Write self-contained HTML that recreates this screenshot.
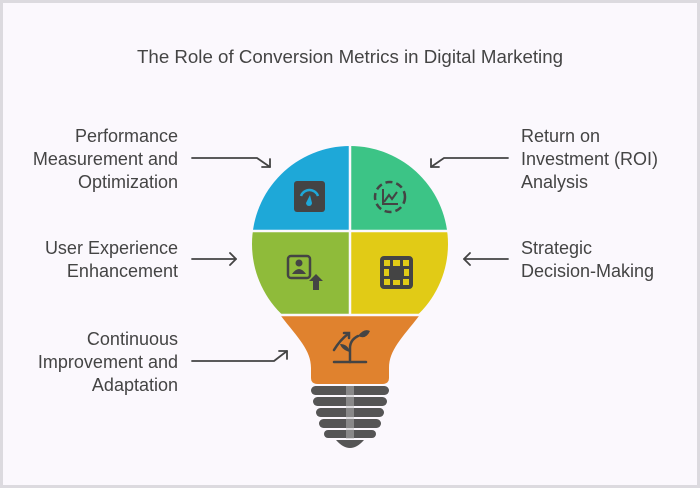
<!DOCTYPE html>
<html><head><meta charset="utf-8"><style>
html,body{margin:0;padding:0;}
body{width:700px;height:488px;background:#fbf8fd;overflow:hidden;}
svg{display:block}
text{font-family:"Liberation Sans",sans-serif;fill:#444;}
</style></head><body>
<svg width="700" height="488" viewBox="0 0 700 488" xmlns="http://www.w3.org/2000/svg">
<rect x="0" y="0" width="700" height="488" fill="#fbf8fd"/>
<rect x="1.5" y="1.5" width="697" height="485" fill="none" stroke="#dcdadf" stroke-width="3"/>
<text x="350" y="63" text-anchor="middle" font-size="18" textLength="426" lengthAdjust="spacingAndGlyphs">The Role of Conversion Metrics in Digital Marketing</text>

<g font-size="18" text-anchor="end">
<text x="178" y="142">Performance</text>
<text x="178" y="165">Measurement and</text>
<text x="178" y="188">Optimization</text>
<text x="178" y="254">User Experience</text>
<text x="178" y="277">Enhancement</text>
<text x="178" y="345">Continuous</text>
<text x="178" y="368">Improvement and</text>
<text x="178" y="391">Adaptation</text>
</g>
<g font-size="18">
<text x="521" y="142">Return on</text>
<text x="521" y="165">Investment (ROI)</text>
<text x="521" y="188">Analysis</text>
<text x="521" y="254">Strategic</text>
<text x="521" y="277">Decision-Making</text>
</g>

<g stroke="#444" stroke-width="1.8" fill="none" stroke-linecap="round" stroke-linejoin="round">
<path d="M192,158 L257,158 L270,167"/><path d="M262,167 L270,167 L270,159"/>
<path d="M508,158 L444,158 L431,167"/><path d="M439,167 L431,167 L431,159"/>
<path d="M192,259 L236,259"/><path d="M230,253 L236,259 L230,265"/>
<path d="M508,259 L464,259"/><path d="M470,253 L464,259 L470,265"/>
<path d="M192,361 L274,361 L287,351"/><path d="M279,351 L287,351 L287,359"/>
</g>

<defs><clipPath id="c"><circle cx="350" cy="244" r="98"/></clipPath></defs>
<g clip-path="url(#c)">
<rect x="250" y="140" width="100" height="91" fill="#1ea8d8"/>
<rect x="350" y="140" width="100" height="91" fill="#3cc486"/>
<rect x="250" y="231" width="100" height="84" fill="#8fbb3a"/>
<rect x="350" y="231" width="100" height="84" fill="#e1cb16"/>
</g>
<path d="M281,316 L419,316 C402,338 389,350 389,368 L389,378 Q389,384 382,384 L318,384 Q311,384 311,378 L311,368 C311,350 298,338 281,316 Z" fill="#e0822e"/>
<g stroke="#fbf8fd" stroke-width="2.5"><line x1="350" y1="140" x2="350" y2="316"/><line x1="250" y1="231" x2="450" y2="231"/><line x1="270" y1="315" x2="430" y2="315"/></g>

<g fill="#555">
<rect x="311" y="386" width="78" height="9" rx="4.5"/>
<rect x="313" y="397" width="74" height="9" rx="4.5"/>
<rect x="316" y="408" width="68" height="9" rx="4.5"/>
<rect x="319" y="419" width="62" height="9" rx="4.5"/>
<rect x="324" y="430" width="52" height="8" rx="4"/>
<path d="M336,440 L364,440 Q357,448 350,448 Q343,448 336,440 Z"/>
</g>
<rect x="346" y="386" width="8" height="53" fill="#bbb" opacity="0.5"/>

<!-- icons -->
<rect x="294" y="181" width="31" height="31" rx="3" fill="#444"/>
<path d="M301,196 A9,9 0 0 1 318,196" stroke="#1ea8d8" stroke-width="2.5" fill="none"/>
<path d="M310,195 L306,203 A3,3 0 0 0 312,203 Z" fill="#1ea8d8"/>
<circle cx="390" cy="197" r="15" stroke="#444" stroke-width="2.5" fill="none" stroke-dasharray="7 4"/>
<path d="M383,189 L383,204 L398,204 M384,202 L389,195 L392,199 L397,192" stroke="#444" stroke-width="2" fill="none"/>
<rect x="288" y="256" width="22" height="22" rx="3" stroke="#444" stroke-width="2.5" fill="none"/>
<circle cx="299" cy="263" r="3.5" fill="#444"/><path d="M292,274 Q299,264 306,274 Z" fill="#444"/>
<path d="M313,290 L313,281 L309,281 L316,274 L323,281 L319,281 L319,290 Z" fill="#444"/>
<rect x="380" y="256" width="33" height="33" rx="4" fill="#444"/>
<g fill="#e1cb16"><rect x="384" y="260" width="6" height="6"/><rect x="393" y="260" width="7" height="6"/><rect x="403" y="260" width="6" height="6"/>
<rect x="384" y="269" width="5" height="7"/><rect x="404" y="269" width="5" height="7"/>
<rect x="384" y="279" width="6" height="6"/><rect x="393" y="280" width="7" height="5"/><rect x="403" y="279" width="6" height="6"/></g>
<g stroke="#444" stroke-width="2.5" fill="none" stroke-linecap="round">
<line x1="334" y1="362" x2="366" y2="362"/>
<path d="M350,362 L350,348 Q350,340 358,336"/>
<path d="M334,350 Q340,340 348,334"/><path d="M344,333 L349,333 L349,338"/>
</g>
<path d="M358,336 Q364,328 370,331 Q366,340 358,336 Z" fill="#444"/>
<path d="M350,352 Q342,350 340,344 Q348,344 350,352 Z" fill="#444"/>
</svg>
</body></html>
